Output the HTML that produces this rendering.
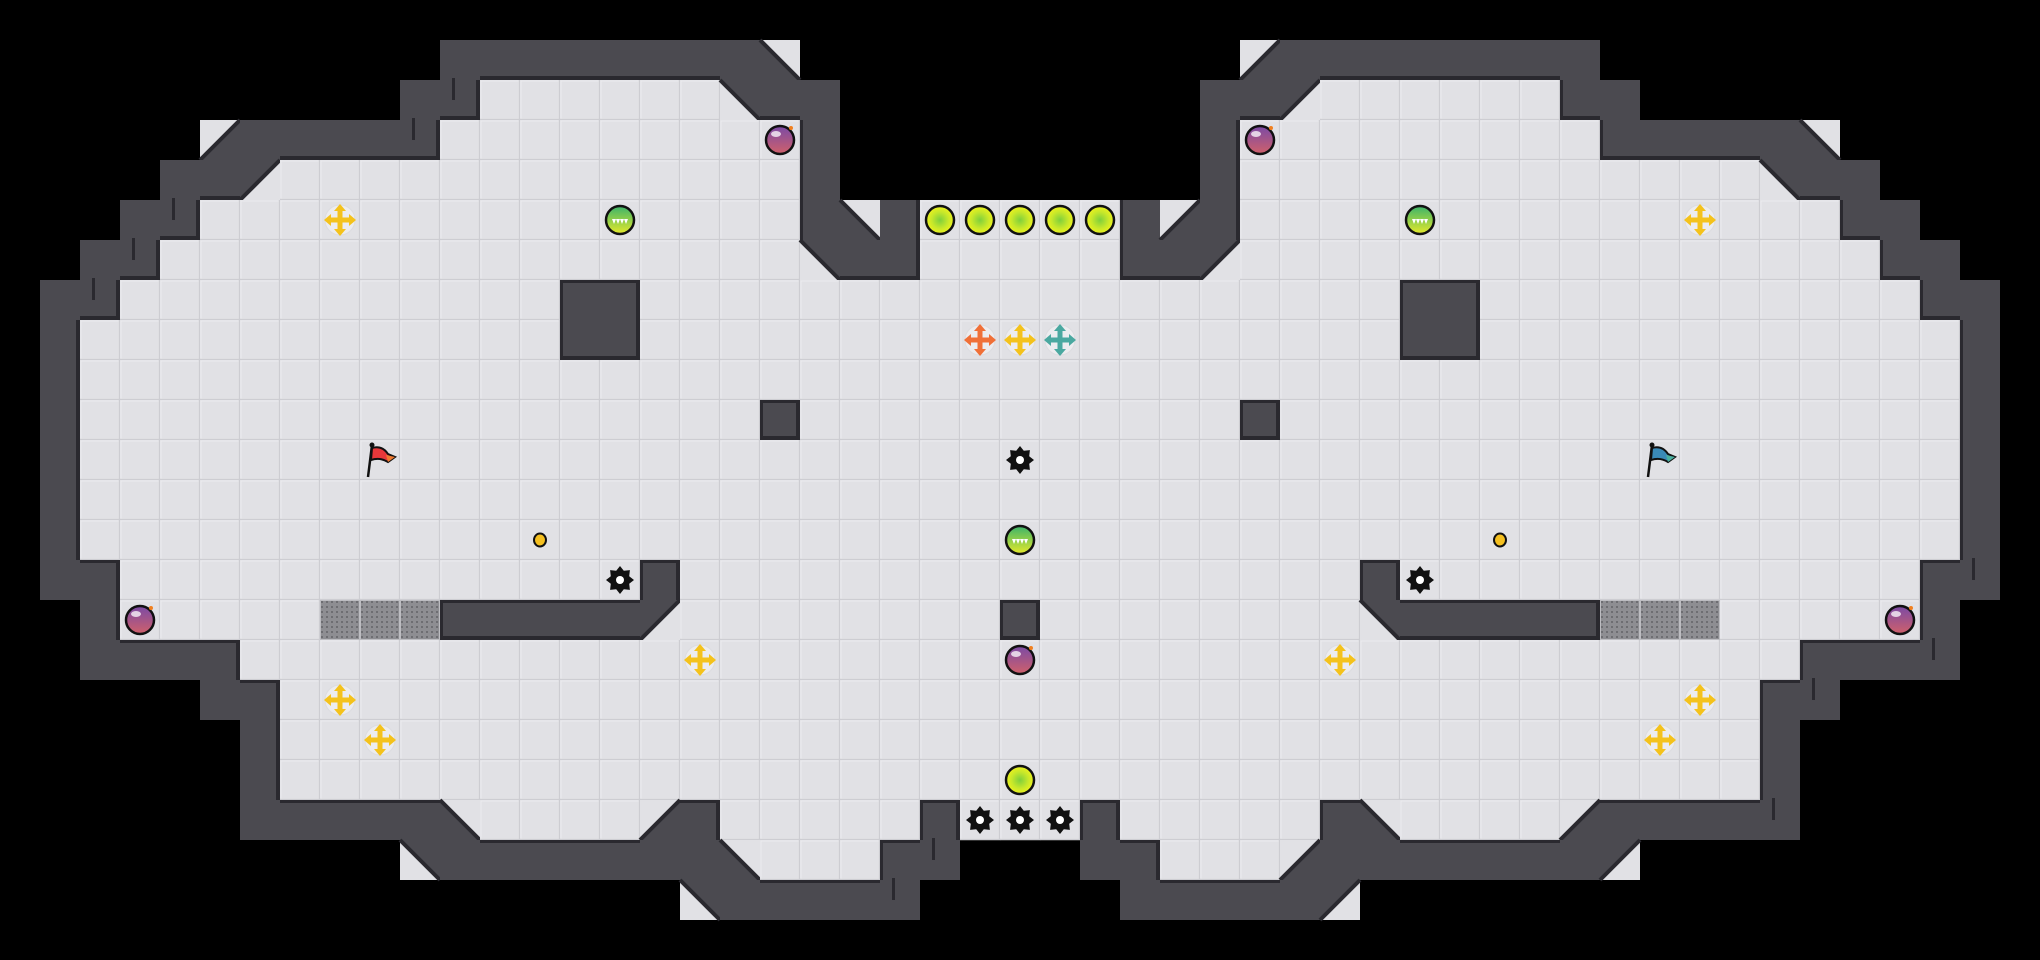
<!DOCTYPE html>
<html><head><meta charset="utf-8"><style>
html,body{margin:0;padding:0;background:#000;width:2040px;height:960px;overflow:hidden}
svg{display:block}
</style></head><body>
<svg id="m" xmlns="http://www.w3.org/2000/svg" width="2040" height="960" viewBox="0 0 2040 960">
<defs>
<radialGradient id="yb" cx="50%" cy="50%" r="50%"><stop offset="0" stop-color="#7fcf3c"/><stop offset="0.6" stop-color="#c8e82a"/><stop offset="1" stop-color="#eef21c"/></radialGradient>
<linearGradient id="gb" x1="0" y1="0" x2="0" y2="1"><stop offset="0" stop-color="#3bb36a"/><stop offset="1" stop-color="#e6ea2a"/></linearGradient>
<linearGradient id="bm" x1="0" y1="0" x2="0" y2="1"><stop offset="0" stop-color="#7a4aa6"/><stop offset="1" stop-color="#d0606a"/></linearGradient>
<pattern id="gp" width="5" height="5" patternUnits="userSpaceOnUse"><rect width="5" height="5" fill="#8e8e92"/><rect x="1" y="1" width="2" height="2" fill="#6e6e72"/></pattern>
</defs>
<rect width="2040" height="960" fill="#000"/>
<g id="g"></g>
</svg>
<script>
var L=[
"                          ",
"           ########a      ",
"          ##......d##     ",
"     b#####.........#     ",
"    ##c.............#     ",
"   ##...............#a#...",
"  ##................d##...",
" ##...........##..........",
" #............##..........",
" #........................",
" #.................#......",
" #........................",
" #........................",
" #........................",
" ##.............#.........",
"  #.....ggg#####c........#",
"  ####....................",
"     ##...................",
"      #...................",
"      #...................",
"      #####a....b#.....#..",
"          d#######a...##  ",
"                 d#####   ",
"                          "];
var mir={a:'b',b:'a',c:'d',d:'c'};
var M=[];
for(var r=0;r<24;r++){var row=[];for(var c=0;c<51;c++){var ch;if(c<=25)ch=L[r][c];else{ch=L[r][50-c];if(mir[ch])ch=mir[ch];}row.push(ch);}M.push(row);}
var S=40,out=[];
var FL='#e1e1e5',WF='#4b4a50',WD='#2a292f';
function isF(r,c){if(r<0||r>23||c<0||c>50)return false;var ch=M[r][c];return ch=='.'||ch=='g';}
for(var r=0;r<24;r++)for(var c=0;c<51;c++){
 var ch=M[r][c],x=c*S,y=r*S;
 if(ch=='.'){out.push('<rect x="'+x+'" y="'+y+'" width="40" height="40" fill="'+FL+'"/><rect x="'+(x+1)+'" y="'+(y+1)+'" width="38" height="38" fill="none" stroke="#ececef" stroke-width="1"/><path d="M'+(x+39.5)+' '+y+'V'+(y+39.5)+'H'+x+'" fill="none" stroke="#cdcdd2" stroke-width="1.5"/>');}
 else if(ch=='g'){out.push('<rect x="'+x+'" y="'+y+'" width="40" height="40" fill="url(#gp)"/><rect x="'+(x+0.5)+'" y="'+(y+0.5)+'" width="39" height="39" fill="none" stroke="#bdbdc1"/>');}
 else if(ch=='#'){out.push('<rect x="'+x+'" y="'+y+'" width="40" height="40" fill="'+WF+'"/>');
  if(isF(r-1,c))out.push('<rect x="'+x+'" y="'+y+'" width="40" height="3" fill="'+WD+'"/>');
  if(isF(r+1,c))out.push('<rect x="'+x+'" y="'+(y+36)+'" width="40" height="4" fill="'+WD+'"/>');
  if(isF(r,c-1))out.push('<rect x="'+x+'" y="'+y+'" width="3" height="40" fill="'+WD+'"/>');
  if(isF(r,c+1))out.push('<rect x="'+(x+36)+'" y="'+y+'" width="4" height="40" fill="'+WD+'"/>');
 }
 else if(mir[ch]){
  var p,l;
  out.push('<rect x="'+x+'" y="'+y+'" width="40" height="40" fill="'+FL+'"/>');
  if(ch=='a'){p=[x,y,x,y+S,x+S,y+S];l=[x,y,x+S,y+S];}
  if(ch=='b'){p=[x+S,y,x+S,y+S,x,y+S];l=[x+S,y,x,y+S];}
  if(ch=='c'){p=[x,y,x+S,y,x,y+S];l=[x+S,y,x,y+S];}
  if(ch=='d'){p=[x,y,x+S,y,x+S,y+S];l=[x,y,x+S,y+S];}
  out.push('<polygon points="'+p.join(' ')+'" fill="'+WF+'"/><line x1="'+l[0]+'" y1="'+l[1]+'" x2="'+l[2]+'" y2="'+l[3]+'" stroke="'+WD+'" stroke-width="4"/>');
 }
}
function cx(c){return c*S+20}function cy(r){return r*S+20}
function ball(c,r){out.push('<circle cx="'+cx(c)+'" cy="'+cy(r)+'" r="14" fill="url(#yb)" stroke="#111" stroke-width="2.5"/>');}
function green(c,r){var X=cx(c),Y=cy(r);out.push('<circle cx="'+X+'" cy="'+Y+'" r="14" fill="url(#gb)" stroke="#111" stroke-width="2.5"/><path d="M'+(X-8)+' '+(Y-1)+'h16l-2 5-2-5-2 5-2-5-2 5-2-5-2 5z" fill="#fff"/>');}
function bomb(c,r){var X=cx(c),Y=cy(r);out.push('<circle cx="'+X+'" cy="'+Y+'" r="14" fill="url(#bm)" stroke="#111" stroke-width="2.5"/><ellipse cx="'+(X-4)+'" cy="'+(Y-6)+'" rx="5" ry="3" fill="#fff" opacity="0.75"/><circle cx="'+(X+11)+'" cy="'+(Y-12)+'" r="2" fill="#f08020"/>');}
function boost(c,r,col){var X=cx(c),Y=cy(r);out.push('<circle cx="'+X+'" cy="'+Y+'" r="15" fill="#ececef" stroke="#dcdce0"/><g fill="'+col+'"><rect x="'+(X-2.5)+'" y="'+(Y-10)+'" width="5" height="20"/><rect x="'+(X-10)+'" y="'+(Y-2.5)+'" width="20" height="5"/><polygon points="'+X+','+(Y-16)+' '+(X-6)+','+(Y-9)+' '+(X+6)+','+(Y-9)+'"/><polygon points="'+X+','+(Y+16)+' '+(X-6)+','+(Y+9)+' '+(X+6)+','+(Y+9)+'"/><polygon points="'+(X-16)+','+Y+' '+(X-9)+','+(Y-6)+' '+(X-9)+','+(Y+6)+'"/><polygon points="'+(X+16)+','+Y+' '+(X+9)+','+(Y-6)+' '+(X+9)+','+(Y+6)+'"/></g>');}
function spike(c,r){var X=cx(c),Y=cy(r),d='';for(var i=0;i<16;i++){var a=i*Math.PI/8,R=(i%2?10:14);d+=(i?'L':'M')+(X+R*Math.cos(a)).toFixed(1)+' '+(Y+R*Math.sin(a)).toFixed(1);}
 out.push('<path d="'+d+'Z" fill="#111"/><circle cx="'+X+'" cy="'+Y+'" r="9" fill="#111"/><circle cx="'+X+'" cy="'+Y+'" r="4" fill="#fff"/>');}
function coin(c,r){out.push('<ellipse cx="'+cx(c)+'" cy="'+cy(r)+'" rx="6" ry="6.5" fill="#f5c020" stroke="#111" stroke-width="2"/>');}
function flag(c,r,col,tail){var x=c*S,y=r*S;out.push('<line x1="'+(x+8)+'" y1="'+(y+37)+'" x2="'+(x+12)+'" y2="'+(y+5)+'" stroke="#111" stroke-width="2.5"/><circle cx="'+(x+12)+'" cy="'+(y+5)+'" r="2.5" fill="#111"/><path d="M'+(x+12)+' '+(y+8)+'Q'+(x+22)+' '+(y+5)+' '+(x+28)+' '+(y+14)+'L'+(x+35)+' '+(y+17)+'L'+(x+28)+' '+(y+22)+'Q'+(x+20)+' '+(y+17)+' '+(x+11)+' '+(y+20)+'Z" fill="'+col+'" stroke="#111" stroke-width="2"/><path d="M'+(x+26)+' '+(y+15)+'L'+(x+35)+' '+(y+17)+'L'+(x+28)+' '+(y+22)+'Z" fill="'+tail+'"/>');}
var Y='#f4c21c';
[[23,5],[24,5],[25,5],[26,5],[27,5],[25,19]].forEach(function(p){ball(p[0],p[1]);});
[[15,5],[35,5],[25,13]].forEach(function(p){green(p[0],p[1]);});
[[19,3],[31,3],[3,15],[47,15],[25,16]].forEach(function(p){bomb(p[0],p[1]);});
[[8,5],[42,5],[17,16],[33,16],[8,17],[42,17],[9,18],[41,18],[25,8]].forEach(function(p){boost(p[0],p[1],Y);});
boost(24,8,'#f07038');boost(26,8,'#4aa8a0');
[[15,14],[35,14],[25,11],[24,20],[25,20],[26,20]].forEach(function(p){spike(p[0],p[1]);});
coin(13,13);coin(37,13);
flag(9,11,'#e8383a','#f07a30');flag(41,11,'#3a8ab8','#4ab0a0');
[[11,2],[10,3],[4,5],[3,6],[2,7],[23,21],[22,22],[49,14],[48,16],[45,17],[44,20]].forEach(function(p){var x=p[0]*S+12,y=p[1]*S-2;out.push('<rect x="'+x+'" y="'+y+'" width="3" height="22" fill="'+WD+'"/>');});
document.getElementById('g').innerHTML=out.join('');
</script>
</body></html>
